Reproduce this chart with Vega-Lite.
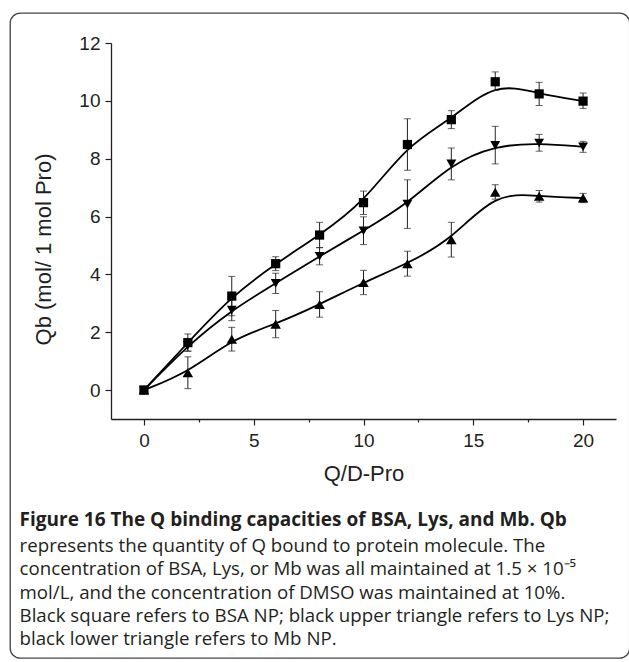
{
  "$schema": "https://vega.github.io/schema/vega-lite/v6.json",
  "width": 505,
  "height": 376,
  "padding": {"left": 9, "top": 12, "right": 0, "bottom": 0},
  "background": "white",
  "config": {
    "view": {"stroke": null},
    "axis": {
      "grid": false,
      "labelFont": "Liberation Sans",
      "labelFontSize": 19,
      "labelColor": "#231f20",
      "titleFont": "Liberation Sans",
      "titleFontSize": 22,
      "titleFontWeight": "normal",
      "titleColor": "#231f20",
      "domainColor": "#231f20",
      "domainWidth": 1.3,
      "tickColor": "#231f20",
      "tickWidth": 1.2,
      "labelOverlap": false,
      "labelFlush": false
    }
  },
  "title": {
    "text": "Figure 16 The Q binding capacities of BSA, Lys, and Mb. Qb",
    "subtitle": [
      "represents the quantity of Q bound to protein molecule. The",
      "concentration of BSA, Lys, or Mb was all maintained at 1.5 × 10⁻⁵",
      "mol/L, and the concentration of DMSO was maintained at 10%.",
      "Black square refers to BSA NP; black upper triangle refers to Lys NP;",
      "black lower triangle refers to Mb NP."
    ],
    "orient": "bottom",
    "anchor": "start",
    "frame": "bounds",
    "offset": -148,
    "dx": 10,
    "baseline": "top",
    "font": "Open Sans",
    "fontSize": 19,
    "fontWeight": "bold",
    "color": "#231f20",
    "subtitleFont": "Open Sans",
    "subtitleFontSize": 18.7,
    "subtitleColor": "#231f20",
    "subtitleLineHeight": 23.4,
    "subtitlePadding": 7
  },
  "data": {
    "values": [
      {"series": "BSA", "x": 0, "y": 0, "lo": 0, "hi": 0},
      {"series": "BSA", "x": 2, "y": 1.64, "lo": 1.34, "hi": 1.94},
      {"series": "BSA", "x": 4, "y": 3.25, "lo": 2.57, "hi": 3.93},
      {"series": "BSA", "x": 6, "y": 4.37, "lo": 4.13, "hi": 4.61},
      {"series": "BSA", "x": 8, "y": 5.36, "lo": 4.92, "hi": 5.8},
      {"series": "BSA", "x": 10, "y": 6.48, "lo": 6.07, "hi": 6.88},
      {"series": "BSA", "x": 12, "y": 8.49, "lo": 7.6, "hi": 9.38},
      {"series": "BSA", "x": 14, "y": 9.35, "lo": 9.04, "hi": 9.66},
      {"series": "BSA", "x": 16, "y": 10.66, "lo": 10.36, "hi": 11.0},
      {"series": "BSA", "x": 18, "y": 10.24, "lo": 9.84, "hi": 10.64},
      {"series": "BSA", "x": 20, "y": 9.99, "lo": 9.74, "hi": 10.27},
      {"series": "Mb", "x": 0, "y": 0, "lo": 0, "hi": 0},
      {"series": "Mb", "x": 2, "y": 1.55, "lo": 1.35, "hi": 1.75},
      {"series": "Mb", "x": 4, "y": 2.77, "lo": 2.4, "hi": 3.14},
      {"series": "Mb", "x": 6, "y": 3.69, "lo": 3.34, "hi": 4.04},
      {"series": "Mb", "x": 8, "y": 4.63, "lo": 4.33, "hi": 4.93},
      {"series": "Mb", "x": 10, "y": 5.51, "lo": 5.03, "hi": 5.99},
      {"series": "Mb", "x": 12, "y": 6.43, "lo": 5.59, "hi": 7.27},
      {"series": "Mb", "x": 14, "y": 7.82, "lo": 7.27, "hi": 8.37},
      {"series": "Mb", "x": 16, "y": 8.46, "lo": 7.82, "hi": 9.12},
      {"series": "Mb", "x": 18, "y": 8.54, "lo": 8.26, "hi": 8.84},
      {"series": "Mb", "x": 20, "y": 8.41, "lo": 8.22, "hi": 8.6},
      {"series": "Lys", "x": 0, "y": 0, "lo": 0, "hi": 0},
      {"series": "Lys", "x": 2, "y": 0.6, "lo": 0.05, "hi": 1.15},
      {"series": "Lys", "x": 4, "y": 1.76, "lo": 1.35, "hi": 2.17},
      {"series": "Lys", "x": 6, "y": 2.28, "lo": 1.81, "hi": 2.75},
      {"series": "Lys", "x": 8, "y": 2.96, "lo": 2.52, "hi": 3.4},
      {"series": "Lys", "x": 10, "y": 3.72, "lo": 3.3, "hi": 4.14},
      {"series": "Lys", "x": 12, "y": 4.37, "lo": 3.94, "hi": 4.8},
      {"series": "Lys", "x": 14, "y": 5.2, "lo": 4.6, "hi": 5.8},
      {"series": "Lys", "x": 16, "y": 6.84, "lo": 6.6, "hi": 7.1},
      {"series": "Lys", "x": 18, "y": 6.7, "lo": 6.5, "hi": 6.9},
      {"series": "Lys", "x": 20, "y": 6.64, "lo": 6.48, "hi": 6.8}
    ]
  },
  "layer": [
    {
      "data": {"values": [{}]},
      "mark": {"type": "rect", "fillOpacity": 0, "stroke": "#444444", "strokeWidth": 1.3, "cornerRadius": 10},
      "encoding": {
        "x": {"datum": -6.09, "type": "quantitative"},
        "x2": {"datum": 22.12},
        "y": {"datum": 13.035, "type": "quantitative"},
        "y2": {"datum": -9.27}
      }
    },
    {
      "mark": {"type": "line", "interpolate": "basis", "color": "black", "strokeWidth": 1.8},
      "encoding": {
        "x": {
          "field": "x", "type": "quantitative",
          "scale": {"domain": [-1.5, 21.5], "nice": false, "zero": false},
          "axis": {
            "title": "Q/D-Pro",
            "values": [0, 2.5, 5, 7.5, 10, 12.5, 15, 17.5, 20],
            "labelExpr": "datum.value % 5 === 0 ? datum.label : ''",
            "tickSize": {"condition": {"test": "datum.value % 5 !== 0", "value": 3}, "value": 6},
            "labelPadding": 6,
            "titlePadding": 13
          }
        },
        "y": {
          "field": "y", "type": "quantitative",
          "scale": {"domain": [-1, 12], "nice": false, "zero": false},
          "axis": {
            "title": "Qb (mol/ 1 mol Pro)",
            "values": [0, 1, 2, 3, 4, 5, 6, 7, 8, 9, 10, 11, 12],
            "labelExpr": "datum.value % 2 === 0 ? datum.label : ''",
            "tickSize": {"condition": {"test": "datum.value % 2 !== 0", "value": 3}, "value": 6},
            "labelPadding": 5,
            "titleX": -68,
            "titleY": 206,
            "titleBaseline": "middle",
            "titleAngle": 270
          }
        },
        "detail": {"field": "series", "type": "nominal"}
      }
    },
    {
      "mark": {"type": "rule", "color": "#222222", "strokeWidth": 1},
      "encoding": {
        "x": {"field": "x", "type": "quantitative", "title": "Q/D-Pro"},
        "y": {"field": "lo", "type": "quantitative", "title": "Qb (mol/ 1 mol Pro)"},
        "y2": {"field": "hi"}
      }
    },
    {
      "mark": {"type": "tick", "orient": "horizontal", "size": 7, "thickness": 1, "color": "#222222"},
      "encoding": {
        "x": {"field": "x", "type": "quantitative", "title": "Q/D-Pro"},
        "y": {"field": "lo", "type": "quantitative", "title": "Qb (mol/ 1 mol Pro)"}
      }
    },
    {
      "mark": {"type": "tick", "orient": "horizontal", "size": 7, "thickness": 1, "color": "#222222"},
      "encoding": {
        "x": {"field": "x", "type": "quantitative", "title": "Q/D-Pro"},
        "y": {"field": "hi", "type": "quantitative", "title": "Qb (mol/ 1 mol Pro)"}
      }
    },
    {
      "mark": {"type": "point", "filled": true, "color": "black", "opacity": 1},
      "encoding": {
        "x": {"field": "x", "type": "quantitative", "title": "Q/D-Pro"},
        "y": {"field": "y", "type": "quantitative", "title": "Qb (mol/ 1 mol Pro)"},
        "shape": {
          "field": "series", "type": "nominal",
          "scale": {"domain": ["BSA", "Mb", "Lys"], "range": ["square", "triangle-down", "triangle-up"]},
          "legend": null
        },
        "size": {
          "field": "series", "type": "nominal",
          "scale": {"domain": ["BSA", "Mb", "Lys"], "range": [85, 110, 110]},
          "legend": null
        }
      }
    }
  ]
}
